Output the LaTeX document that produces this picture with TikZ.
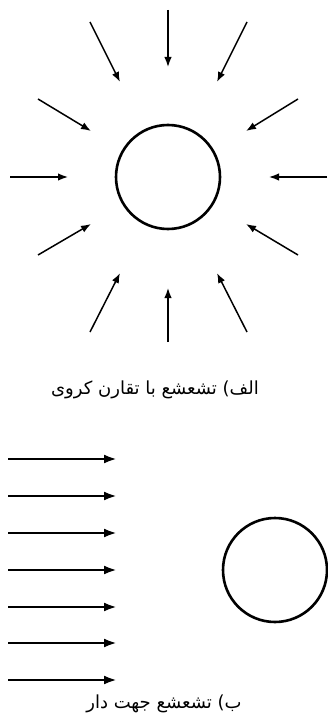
\documentclass[tikz,border=0pt]{standalone}
\usepackage{fontspec}
\newfontfamily\arabicfont[Script=Arabic]{DejaVu Sans}
\TeXXeTstate=1
\usetikzlibrary{arrows.meta}

\begin{document}
\begin{tikzpicture}[x=1pt, y=-1pt, >={Latex[length=10pt, width=7.5pt]},
  ray/.style={->, line width=1.5pt},
  beam/.style={-{Latex[length=13pt, width=9pt]}, line width=2.6pt},
  ball/.style={draw, circle, line width=2.6pt, minimum size=104pt, inner sep=0pt},
  caption/.style={font=\arabicfont\fontsize{18}{20}\selectfont, inner sep=0pt}]
\useasboundingbox (0,0) rectangle (328,719);
% (a) spherical
\node[ball] (sph) at (168,177) {};
\foreach \sx/\sy/\ex/\ey in {168/10/168/67, 247/22/217/82, 298/99/246/131,
  327/177/269/177, 298/255/246/224, 247/332/217/273, 168/342/168/288,
  90/332/120/273, 38/255/91/224, 10/177/68/177, 38/99/91/131, 90/22/120/82}
  \draw[ray] (\sx,\sy) -- (\ex,\ey);
\node[caption] (capa) at (155,390) {\beginR الف) تشعشع با تقارن کروی\endR};
% (b) directed
\node[ball] (dir) at (275,570) {};
\foreach \y in {459,496,533,570,607,643,680}
  \draw[beam] (8,\y) -- (117,\y);
\node[caption] (capb) at (164,704) {\beginR ب) تشعشع جهت دار\endR};
\end{tikzpicture}
\end{document}
